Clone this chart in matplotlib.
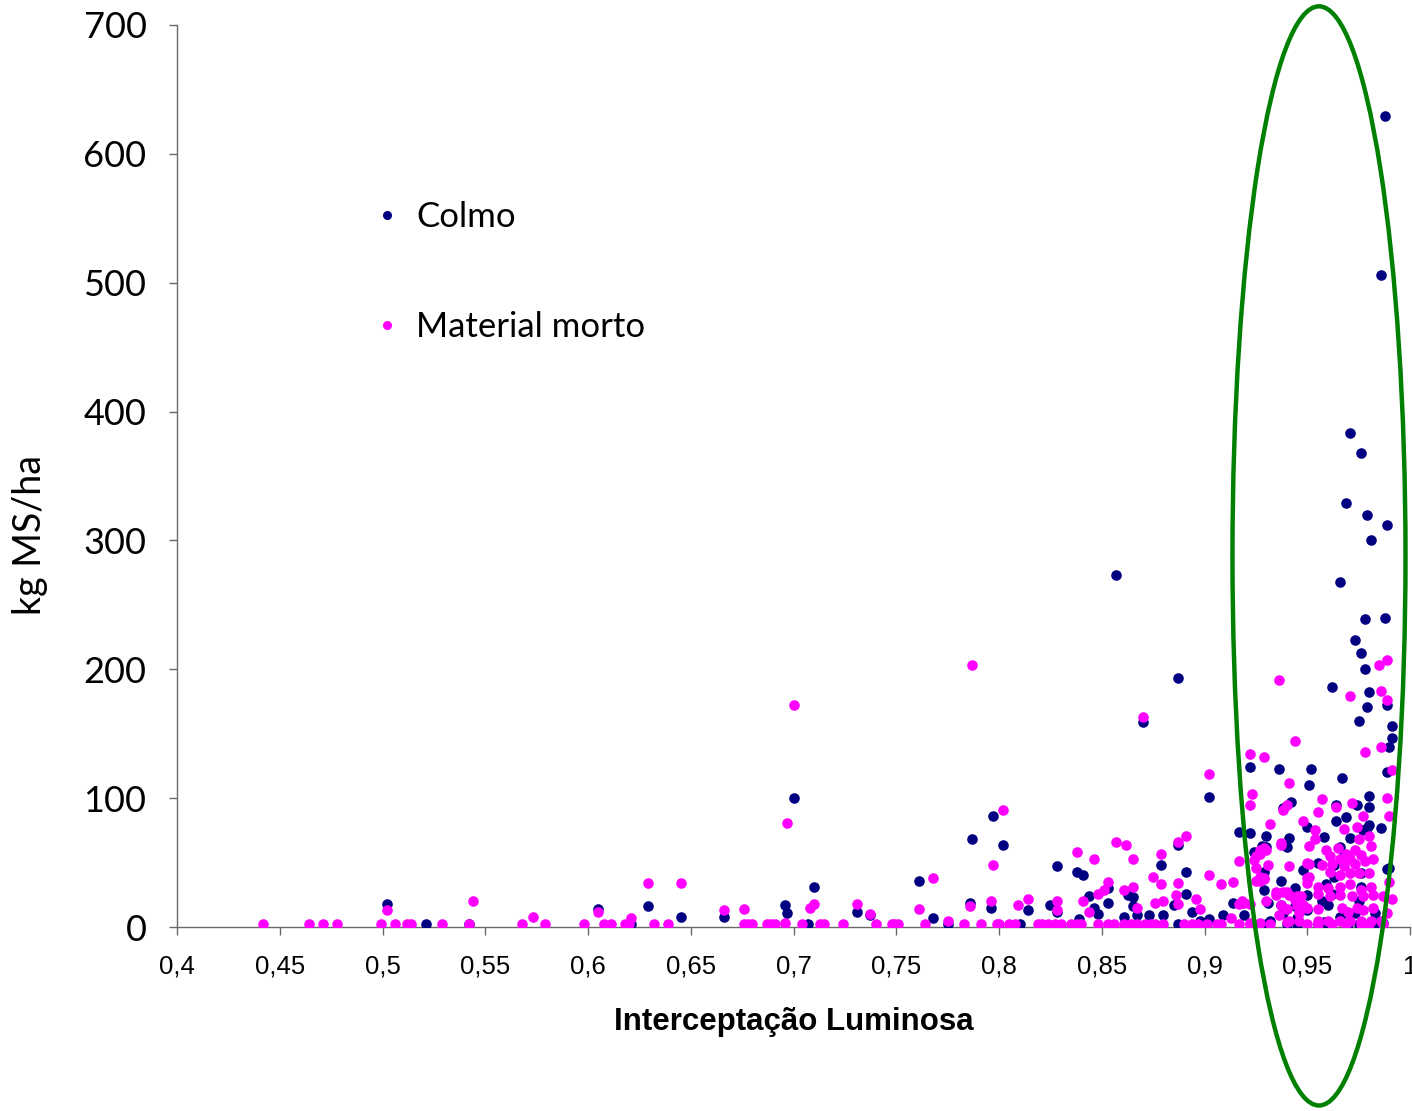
import matplotlib
matplotlib.use("Agg")
import matplotlib.pyplot as plt
from matplotlib.patches import Ellipse
from matplotlib.ticker import FuncFormatter, MultipleLocator
from matplotlib.lines import Line2D

# Colmo: interceptacao luminosa x kg MS/ha
colmo_il = [0.502, 0.521, 0.542, 0.605, 0.621, 0.629, 0.645, 0.666, 0.696, 0.697,
            0.700, 0.707, 0.710, 0.731, 0.737, 0.761, 0.768, 0.775, 0.786, 0.787,
            0.796, 0.797, 0.802, 0.810, 0.814, 0.825, 0.828, 0.828, 0.838, 0.839,
            0.841, 0.844, 0.846, 0.848, 0.853, 0.853, 0.857, 0.861, 0.863, 0.865,
            0.865, 0.867, 0.870, 0.873, 0.879, 0.880, 0.885, 0.887, 0.887, 0.887,
            0.891, 0.891, 0.894, 0.898, 0.902, 0.902, 0.909, 0.914, 0.917, 0.919,
            0.922, 0.922, 0.924, 0.928, 0.929, 0.929, 0.928, 0.930, 0.930, 0.931,
            0.932, 0.936, 0.937, 0.937, 0.938, 0.938, 0.940, 0.941, 0.942, 0.944,
            0.944, 0.945, 0.950, 0.950, 0.950, 0.951, 0.952, 0.955, 0.958, 0.959,
            0.960, 0.962, 0.963, 0.963, 0.964, 0.964, 0.966, 0.966, 0.967, 0.968,
            0.969, 0.969, 0.971, 0.971, 0.973, 0.973, 0.974, 0.975, 0.976, 0.976,
            0.976, 0.976, 0.977, 0.978, 0.978, 0.979, 0.979, 0.979, 0.980, 0.980,
            0.980, 0.980, 0.981, 0.982, 0.983, 0.986, 0.986, 0.987, 0.988, 0.988,
            0.989, 0.989, 0.989, 0.989, 0.990, 0.990, 0.991, 0.991, 0.969, 0.930,
            0.945, 0.960, 0.975, 0.985, 0.955, 0.940, 0.970, 0.957, 0.962, 0.975,
            0.948, 0.966, 0.958]
colmo_kg = [18, 2, 2, 14, 2, 16, 8, 8, 17, 11,
            100, 2, 31, 12, 9, 36, 7, 2, 19, 68,
            15, 86, 64, 2, 13, 17, 47, 12, 43, 6,
            40, 24, 15, 10, 19, 30, 273, 8, 25, 23,
            16, 9, 159, 9, 48, 9, 17, 64, 193, 2,
            43, 26, 12, 5, 101, 6, 9, 19, 74, 9,
            73, 124, 58, 63, 43, 29, 38, 71, 62, 19,
            5, 123, 36, 17, 92, 11, 62, 69, 97, 30,
            16, 7, 78, 25, 13, 110, 123, 50, 4, 33,
            17, 186, 39, 48, 95, 82, 268, 8, 116, 56,
            329, 85, 383, 69, 223, 11, 95, 160, 368, 213,
            42, 31, 75, 239, 200, 320, 171, 77, 182, 102,
            93, 79, 300, 3, 11, 506, 77, 3, 629, 240,
            312, 172, 120, 45, 140, 46, 156, 147, 12, 2,
            2, 2, 2, 2, 2, 2, 2, 20, 26, 20,
            44, 62, 70]

# Material morto
morto_il = [0.442, 0.464, 0.471, 0.478, 0.499, 0.502, 0.506, 0.512, 0.514, 0.529,
            0.542, 0.544, 0.568, 0.573, 0.579, 0.598, 0.605, 0.608, 0.611, 0.618,
            0.620, 0.621, 0.629, 0.632, 0.639, 0.645, 0.666, 0.676, 0.676, 0.678,
            0.680, 0.687, 0.689, 0.691, 0.696, 0.697, 0.700, 0.704, 0.708, 0.710,
            0.713, 0.715, 0.724, 0.731, 0.737, 0.740, 0.748, 0.749, 0.751, 0.761,
            0.764, 0.768, 0.775, 0.783, 0.786, 0.787, 0.791, 0.796, 0.797, 0.799,
            0.800, 0.802, 0.805, 0.808, 0.809, 0.814, 0.819, 0.821, 0.824, 0.827,
            0.828, 0.828, 0.830, 0.835, 0.838, 0.838, 0.840, 0.841, 0.844, 0.846,
            0.848, 0.848, 0.851, 0.853, 0.853, 0.856, 0.857, 0.861, 0.861, 0.862,
            0.864, 0.865, 0.865, 0.867, 0.867, 0.870, 0.871, 0.874, 0.875, 0.876,
            0.876, 0.879, 0.879, 0.880, 0.880, 0.886, 0.887, 0.887, 0.887, 0.890,
            0.891, 0.894, 0.896, 0.897, 0.898, 0.901, 0.902, 0.902, 0.906, 0.908,
            0.908, 0.913, 0.914, 0.917, 0.917, 0.917, 0.918, 0.919, 0.922, 0.922,
            0.922, 0.922, 0.922, 0.923, 0.924, 0.925, 0.925, 0.925, 0.927, 0.927,
            0.927, 0.927, 0.927, 0.929, 0.929, 0.929, 0.929, 0.930, 0.930, 0.931,
            0.932, 0.932, 0.935, 0.935, 0.936, 0.936, 0.937, 0.937, 0.937, 0.938,
            0.938, 0.940, 0.940, 0.940, 0.940, 0.941, 0.941, 0.941, 0.941, 0.944,
            0.944, 0.945, 0.945, 0.946, 0.946, 0.947, 0.948, 0.948, 0.950, 0.950,
            0.950, 0.950, 0.950, 0.951, 0.951, 0.951, 0.954, 0.954, 0.955, 0.955,
            0.955, 0.955, 0.955, 0.955, 0.957, 0.957, 0.959, 0.960, 0.960, 0.961,
            0.961, 0.961, 0.962, 0.962, 0.964, 0.965, 0.966, 0.966, 0.966, 0.966,
            0.966, 0.967, 0.968, 0.968, 0.969, 0.969, 0.970, 0.971, 0.971, 0.971,
            0.971, 0.971, 0.972, 0.972, 0.973, 0.973, 0.974, 0.974, 0.975, 0.975,
            0.976, 0.976, 0.976, 0.976, 0.977, 0.977, 0.977, 0.978, 0.978, 0.980,
            0.980, 0.980, 0.981, 0.981, 0.981, 0.982, 0.982, 0.982, 0.985, 0.986,
            0.986, 0.986, 0.987, 0.987, 0.989, 0.989, 0.989, 0.989, 0.990, 0.990,
            0.991, 0.991]
morto_kg = [2, 2, 2, 2, 2, 13, 2, 2, 2, 2,
            2, 20, 2, 8, 2, 2, 12, 2, 2, 2,
            2, 7, 34, 2, 2, 34, 13, 14, 2, 2,
            2, 2, 2, 2, 3, 81, 172, 2, 15, 18,
            2, 2, 2, 18, 10, 2, 2, 2, 2, 14,
            2, 38, 5, 2, 16, 203, 2, 20, 48, 2,
            2, 91, 2, 2, 17, 22, 2, 2, 2, 2,
            20, 13, 2, 2, 2, 58, 2, 20, 12, 53,
            26, 2, 29, 35, 2, 2, 66, 29, 2, 64,
            2, 53, 31, 15, 2, 163, 2, 2, 39, 2,
            19, 57, 33, 2, 20, 25, 66, 34, 18, 2,
            71, 2, 22, 2, 14, 2, 40, 119, 2, 2,
            33, 7, 35, 2, 51, 18, 20, 19, 134, 95,
            18, 3, 2, 103, 52, 55, 36, 46, 57, 60,
            36, 39, 3, 132, 61, 37, 38, 60, 20, 48,
            80, 2, 25, 27, 192, 9, 65, 64, 17, 91,
            27, 95, 27, 4, 14, 112, 47, 25, 5, 144,
            21, 24, 16, 11, 5, 24, 82, 17, 38, 50,
            34, 15, 2, 63, 49, 39, 75, 68, 89, 31,
            26, 14, 5, 2, 99, 48, 60, 30, 5, 55,
            43, 24, 49, 2, 93, 61, 53, 40, 31, 25,
            5, 15, 76, 47, 57, 2, 12, 179, 53, 42,
            33, 5, 96, 24, 60, 49, 78, 15, 68, 42,
            56, 29, 5, 2, 86, 24, 13, 136, 51, 71,
            42, 2, 63, 31, 5, 53, 25, 15, 203, 183,
            140, 5, 24, 2, 207, 176, 100, 11, 86, 35,
            122, 22]

xticks = [0.4, 0.45, 0.5, 0.55, 0.6, 0.65, 0.7, 0.75, 0.8, 0.85, 0.9, 0.95, 1.0]

navy = '#000080'
magenta = '#FF00FF'
axis_grey = '#6a6a6a'

fig = plt.figure(figsize=(14.12, 11.11), dpi=100)
ax = fig.add_axes([0.1254, 0.1656, 0.8732, 0.8119])

ax.scatter(colmo_il, colmo_kg, s=58, color=navy, linewidths=0, zorder=3)
ax.scatter(morto_il, morto_kg, s=58, color=magenta, linewidths=0, zorder=4)

ax.set_xlim(0.4, 1.0)
ax.set_ylim(0, 700)
ax.set_xticks(xticks)
ax.yaxis.set_major_locator(MultipleLocator(100))
ax.xaxis.set_major_formatter(FuncFormatter(lambda v, p: ('%g' % round(v, 2)).replace('.', ',')))

for s in ['top', 'right']:
    ax.spines[s].set_visible(False)
for s in ['left', 'bottom']:
    ax.spines[s].set_color(axis_grey)
    ax.spines[s].set_linewidth(1.0)

ax.tick_params(axis='y', direction='out', length=6, width=1, color=axis_grey,
               pad=16, labelsize=26)
ax.tick_params(axis='x', direction='out', length=6, width=1, color=axis_grey,
               pad=14, labelsize=18.5)
for lbl in ax.get_yticklabels():
    lbl.set_fontfamily('Lato')
for lbl in ax.get_xticklabels():
    lbl.set_fontfamily('Liberation Sans')

ax.set_xlabel('Interceptação Luminosa', fontsize=22.5, fontweight='bold',
              fontfamily='Liberation Sans', labelpad=20)
ax.set_ylabel('kg MS/ha', fontsize=27, fontfamily='Lato')
ax.yaxis.set_label_coords(-0.105, 0.435)

# destaque da faixa de alta interceptacao
ell = Ellipse((0.9557, 288), width=0.0842, height=853, fill=False,
              edgecolor='#008000', linewidth=3.2, clip_on=False, zorder=5)
ax.add_patch(ell)

handles = [Line2D([], [], linestyle='none', marker='o', markersize=6.5,
                  markerfacecolor=navy, markeredgewidth=0, label='Colmo'),
           Line2D([], [], linestyle='none', marker='o', markersize=6.5,
                  markerfacecolor=magenta, markeredgewidth=0, label='Material morto')]
ax.legend(handles=handles, loc='upper left', bbox_to_anchor=(0.165, 0.805),
          frameon=False, prop={'family': 'Lato', 'size': 25},
          labelspacing=2.25, handlelength=0.4, handletextpad=0.63,
          borderpad=0, borderaxespad=0)

fig.savefig('out.png', dpi=100)
